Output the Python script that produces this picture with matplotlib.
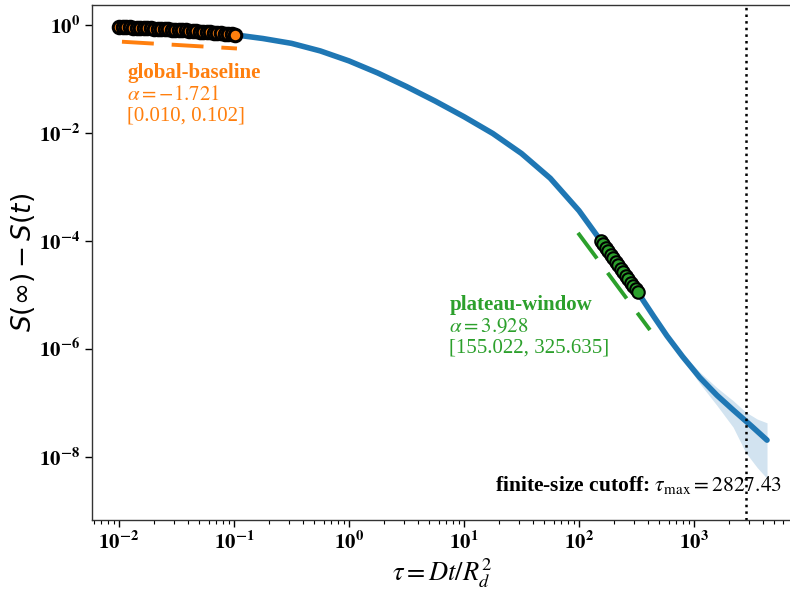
import numpy as np
import matplotlib
matplotlib.use("Agg")
import matplotlib.pyplot as plt
from matplotlib.ticker import NullLocator, FixedLocator, FuncFormatter, NullFormatter

# ---- data ----
tau = [0.0100, 0.0178, 0.0316, 0.0562, 0.100, 0.178, 0.316, 0.562, 1.00, 1.78,
       3.16, 5.62, 10.0, 17.8, 31.6, 56.2, 100.0, 155.0, 224.0, 326.0,
       447.0, 582.0, 794.0, 1122.0, 1585.0, 2188.0, 3162.0, 4315.0]
S = [0.912, 0.867, 0.813, 0.745, 0.661, 0.562, 0.457, 0.331, 0.216, 0.129,
     0.0724, 0.0389, 0.0200, 0.00977, 0.00417, 0.00145, 3.63e-4, 1.0e-4, 3.39e-5, 1.10e-5,
     3.98e-6, 1.74e-6, 7.24e-7, 2.95e-7, 1.38e-7, 7.41e-8, 3.72e-8, 2.04e-8]

band_tau = [562.0, 794.0, 1122.0, 1585.0, 2188.0, 2818.0, 3548.0, 4315.0]
band_lo = [1.91e-6, 6.46e-7, 2.29e-7, 8.91e-8, 3.55e-8, 1.20e-8, 6.31e-9, 3.98e-9]
band_hi = [1.97e-6, 8.13e-7, 3.72e-7, 1.91e-7, 1.10e-7, 6.76e-8, 5.01e-8, 4.27e-8]

w1_tau = [0.01000, 0.01073, 0.01151, 0.01235, 0.01325, 0.01422, 0.01526, 0.01637,
          0.01756, 0.01884, 0.02022, 0.02169, 0.02327, 0.02497, 0.02679, 0.02874,
          0.03084, 0.03309, 0.03550, 0.03809, 0.04087, 0.04385, 0.04705, 0.05048,
          0.05416, 0.05811, 0.06235, 0.06689, 0.07177, 0.07700, 0.08262, 0.08864,
          0.09511, 0.10200]
w1_S = [0.912, 0.908, 0.904, 0.899, 0.894, 0.889, 0.884, 0.878,
        0.872, 0.866, 0.859, 0.853, 0.846, 0.839, 0.831, 0.823,
        0.816, 0.808, 0.799, 0.791, 0.782, 0.774, 0.765, 0.756,
        0.746, 0.737, 0.727, 0.718, 0.708, 0.698, 0.688, 0.678,
        0.668, 0.658]

w2_tau = [155.0, 163.0, 171.3, 180.1, 189.4, 199.1, 209.3, 220.1,
          231.4, 243.2, 255.7, 268.9, 282.7, 297.2, 312.5, 325.6]
w2_S = [9.98e-5, 8.61e-5, 7.43e-5, 6.41e-5, 5.53e-5, 4.77e-5, 4.11e-5, 3.55e-5,
        3.06e-5, 2.64e-5, 2.28e-5, 1.96e-5, 1.69e-5, 1.46e-5, 1.26e-5, 1.12e-5]

fit1_tau = [0.0106, 0.106]
fit1_S = [0.490, 0.367]
fit2_tau = [98.0, 414.0]
fit2_S = [1.41e-4, 2.24e-6]

tau_max = 2827.43
x_ticks = [1e-2, 1e-1, 1e0, 1e1, 1e2, 1e3]
y_ticks = [1e0, 1e-2, 1e-4, 1e-6, 1e-8]

# ---- style ----
plt.rcParams['font.family'] = ['Liberation Serif', 'DejaVu Serif']
plt.rcParams['mathtext.fontset'] = 'stix'

BLUE, ORANGE, GREEN = '#1f77b4', '#ff7f0e', '#2ca02c'

fig = plt.figure(figsize=(7.9, 5.91), dpi=100)
ax = fig.add_axes([0.1165, 0.1201, 0.8866, 0.8714])
ax.set_xscale('log')
ax.set_yscale('log')

ax.fill_between(band_tau, band_lo, band_hi, color=BLUE, alpha=0.2, lw=0, zorder=1)
ax.plot(tau, S, color=BLUE, lw=4, solid_capstyle='round', solid_joinstyle='round', zorder=2)
ax.plot(fit1_tau, fit1_S, color=ORANGE, lw=2.8, dashes=(8.2, 4.6), zorder=2)
ax.plot(fit2_tau, fit2_S, color=GREEN, lw=2.8, dashes=(8.2, 4.6), zorder=2)
ax.plot(w1_tau, w1_S, 'o', ms=9, mfc=ORANGE, mec='black', mew=2.2, zorder=3)
ax.plot(w2_tau, w2_S, 'o', ms=9, mfc=GREEN, mec='black', mew=1.5, zorder=3)
ax.axvline(tau_max, color='black', ls=':', lw=1.8, zorder=2)

ax.set_xlim(10**-2.235, 10**3.856)
ax.set_ylim(10**-9.17, 10**0.37)

minor_x = [m * 10.0**e for e in range(-3, 4) for m in range(2, 10)]
minor_x = [v for v in minor_x if 10**-2.235 < v < 10**3.856]

fmt = FuncFormatter(lambda v, p: r'$\mathbf{10^{%d}}$' % int(round(np.log10(v))))
ax.xaxis.set_major_locator(FixedLocator(x_ticks))
ax.xaxis.set_minor_locator(FixedLocator(minor_x))
ax.xaxis.set_major_formatter(fmt)
ax.xaxis.set_minor_formatter(NullFormatter())
ax.yaxis.set_major_locator(FixedLocator(y_ticks))
ax.yaxis.set_minor_locator(NullLocator())
ax.yaxis.set_major_formatter(fmt)

ax.tick_params(which='major', length=5, width=1, direction='out', labelsize=15)
ax.tick_params(which='minor', length=3, width=0.8, direction='out')
for sp in ax.spines.values():
    sp.set_linewidth(1.0)
    sp.set_color('#333333')

ax.set_xlabel(r'$\tau = Dt/R_d^2$', fontsize=19, labelpad=2)
ax.set_ylabel(r'$S(\infty) - S(t)$', fontsize=19, math_fontfamily='dejavusans')
ax.yaxis.set_label_coords(-0.078, 0.5)

# annotations
ax.text(0.050, 0.868, 'global-baseline', transform=ax.transAxes, color=ORANGE,
        fontsize=15, fontweight='bold', va='center', ha='left')
ax.text(0.050, 0.825, r'$\alpha = -1.721$', transform=ax.transAxes, color=ORANGE,
        fontsize=15, va='center', ha='left')
ax.text(0.050, 0.785, '[0.010, 0.102]', transform=ax.transAxes, color=ORANGE,
        fontsize=15, va='center', ha='left')

ax.text(0.510, 0.417, 'plateau-window', transform=ax.transAxes, color=GREEN,
        fontsize=15, fontweight='bold', va='center', ha='left')
ax.text(0.510, 0.374, r'$\alpha = 3.928$', transform=ax.transAxes, color=GREEN,
        fontsize=15, va='center', ha='left')
ax.text(0.510, 0.334, '[155.022, 325.635]', transform=ax.transAxes, color=GREEN,
        fontsize=15, va='center', ha='left')

ax.text(0.985, 0.068, r'finite-size cutoff: $\tau_{\max} = 2827.43$', transform=ax.transAxes,
        color='black', fontsize=15.5, fontweight='bold', va='center', ha='right')

fig.savefig('out.png', dpi=100)
